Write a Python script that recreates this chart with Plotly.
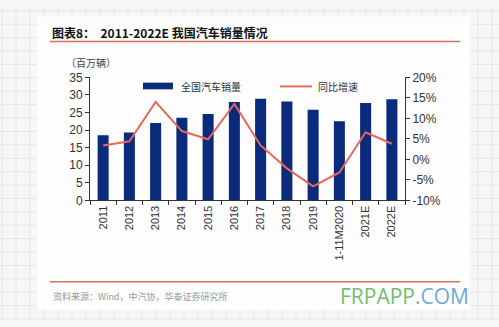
import plotly.graph_objects as go

# Annual vehicle sales in China (millions) and year-on-year growth (%)
categories = ["2011", "2012", "2013", "2014", "2015", "2016", "2017",
              "2018", "2019", "1-11M2020", "2021E", "2022E"]
sales = [18.5, 19.3, 22.0, 23.5, 24.6, 28.0, 28.9, 28.1, 25.8, 22.5, 27.7, 28.8]
growth = [3.4, 4.4, 14.0, 6.9, 4.9, 13.5, 3.4, -2.2, -6.6, -3.2, 6.6, 3.8]
left_ticks = [0, 5, 10, 15, 20, 25, 30, 35]
right_ticks = [-10, -5, 0, 5, 10, 15, 20]
right_labels = [f"{v}%" for v in right_ticks]
series_names = ["全国汽车销量", "同比增速"]

W, H = 499, 327
BAR = "#0a2a7c"
LINE = "#e8665c"
RULE = "#d8705e"


def px(x):
    return x / W


def py(y):
    return 1 - y / H


fig = go.Figure()
fig.add_trace(go.Bar(x=categories, y=sales, name=series_names[0],
                     marker=dict(color=BAR, line=dict(width=0)), yaxis="y"))
fig.add_trace(go.Scatter(x=categories, y=growth, name=series_names[1],
                         mode="lines", line=dict(color=LINE, width=2),
                         yaxis="y2"))

shapes = []
# spreadsheet-style grid behind the page
for gx in range(2, W, 14):
    shapes.append(dict(type="line", xref="paper", yref="paper", layer="below",
                       x0=px(gx), x1=px(gx), y0=0, y1=1,
                       line=dict(color="#e6e6e6", width=1)))
for gy in range(4, H, 14):
    shapes.append(dict(type="line", xref="paper", yref="paper", layer="below",
                       x0=0, x1=1, y0=py(gy), y1=py(gy),
                       line=dict(color="#e6e6e6", width=1)))
# white page
shapes.append(dict(type="rect", xref="paper", yref="paper", layer="below",
                   x0=px(37), x1=px(470), y0=py(316), y1=py(10),
                   fillcolor="#fdfdfd", line=dict(width=0)))
# title and footer rules
for ry in (36, 287):
    shapes.append(dict(type="line", xref="paper", yref="paper",
                       x0=px(50), x1=px(460), y0=py(ry), y1=py(ry),
                       line=dict(color=RULE, width=1.5)))
# legend keys
shapes.append(dict(type="rect", xref="paper", yref="paper",
                   x0=px(143), x1=px(173), y0=py(86), y1=py(79),
                   fillcolor=BAR, line=dict(width=0)))
shapes.append(dict(type="line", xref="paper", yref="paper",
                   x0=px(280), x1=px(312), y0=py(83), y1=py(83),
                   line=dict(color=LINE, width=2)))

legend_font = dict(size=10, color="#333", family="Noto Sans CJK SC")
annotations = [
    dict(text="<b>图表8：  2011-2022E 我国汽车销量情况</b>", x=px(50), y=py(27),
         xref="paper", yref="paper", xanchor="left", yanchor="middle",
         showarrow=False, font=dict(size=12, color="#111",
                                    family="Noto Sans CJK SC")),
    dict(text="（百万辆）", x=px(64), y=py(58), xref="paper", yref="paper",
         xanchor="left", yanchor="middle", showarrow=False,
         font=dict(size=10, color="#444", family="Noto Sans CJK SC")),
    dict(text=series_names[0], x=px(179), y=py(83), xref="paper",
         yref="paper", xanchor="left", yanchor="middle", showarrow=False,
         font=legend_font),
    dict(text=series_names[1], x=px(316), y=py(83), xref="paper",
         yref="paper", xanchor="left", yanchor="middle", showarrow=False,
         font=legend_font),
    dict(text="资料来源：Wind，中汽协，华泰证券研究所", x=px(51), y=py(302),
         xref="paper", yref="paper", xanchor="left", yanchor="middle",
         showarrow=False, font=dict(size=9, color="#999",
                                    family="Noto Sans CJK SC")),
    dict(text='<span style="color:#72c06e">FRPAPP.</span>'
              '<span style="color:#73a7d8">COM</span>',
         x=px(471), y=py(302), xref="paper", yref="paper",
         xanchor="right", yanchor="middle", showarrow=False,
         font=dict(size=21, family="Open Sans")),
]

axis_font = dict(size=12, color="#333", family="Liberation Sans")

fig.update_layout(
    width=W, height=H,
    margin=dict(l=0, r=0, t=0, b=0),
    paper_bgcolor="#f7f7f7",
    plot_bgcolor="rgba(0,0,0,0)",
    bargap=0.58,
    showlegend=False,
    xaxis=dict(domain=[px(90), px(405)], type="category",
               tickangle=-90, tickfont=dict(size=11, color="#333",
                                            family="Liberation Sans"),
               showline=True, linecolor="#333", linewidth=1,
               ticks="outside", ticklen=4, tickcolor="#333",
               tickson="boundaries", showgrid=False),
    yaxis=dict(range=[0, 35], tickvals=left_ticks, tickfont=axis_font,
               domain=[py(202), py(73.5)], showline=True, linecolor="#333",
               linewidth=1, ticks="outside", ticklen=4, tickcolor="#333",
               showgrid=False, zeroline=False),
    yaxis2=dict(range=[-10, 20], tickvals=right_ticks, ticktext=right_labels,
                tickfont=axis_font, overlaying="y", side="right",
                anchor="x", showline=True, linecolor="#333", linewidth=1,
                ticks="outside", ticklen=4, tickcolor="#333",
                showgrid=False, zeroline=False),
    shapes=shapes,
    annotations=annotations,
)

fig.write_html("out.html")
